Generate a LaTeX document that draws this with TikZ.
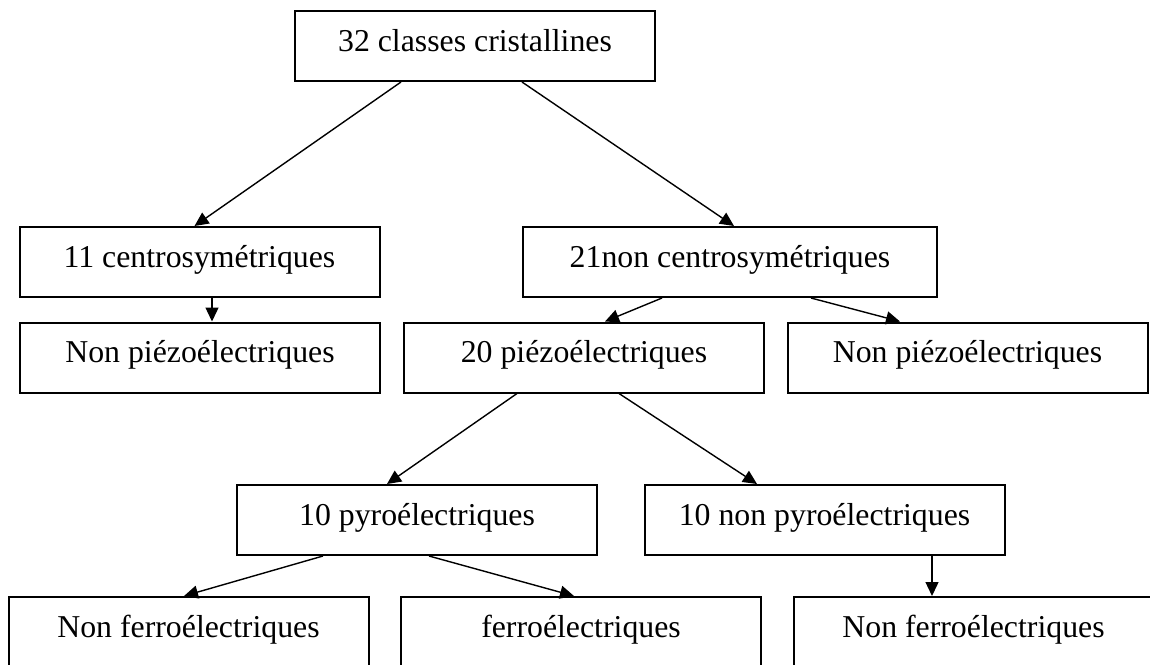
\documentclass[tikz,border=0pt]{standalone}
\usepackage{fontspec}
\setmainfont{Liberation Serif}
\usetikzlibrary{arrows.meta}

\tikzset{
  classe/.style={draw=black, line width=1pt, minimum width=180pt, minimum height=35pt,
    inner sep=0pt, text height=11.1pt, text depth=5.9pt,
    font=\fontsize{15.9}{19}\selectfont},
  fleche/.style={->, line width=0.7pt}
}

\begin{document}
\begin{tikzpicture}[x=0.5pt, y=-0.5pt, >={Triangle[length=7pt,width=6.5pt]}]
\clip (0,0) rectangle (1150,664);

\node[classe] (c32) at (475,46) {32 classes cristallines};

\node[classe] (c11) at (199.5,262) {11 centrosymétriques};
\node[classe, minimum width=207pt, node distance=265.25pt, right of=c11] (c21) {21non centrosymétriques};

\node[classe] (np1) at (200,357.5) {Non piézoélectriques};
\node[classe, node distance=192pt, right of=np1] (p20) {20 piézoélectriques};
\node[classe, node distance=191.75pt, right of=p20] (np2) {Non piézoélectriques};

\node[classe] (pyro) at (417,520) {10 pyroélectriques};
\node[classe, node distance=203.75pt, right of=pyro] (npyro) {10 non pyroélectriques};

\node[classe] (nf1) at (188.5,632) {Non ferroélectriques};
\node[classe, node distance=196.25pt, right of=nf1] (ferro) {ferroélectriques};
\node[classe, node distance=196.25pt, right of=ferro] (nf2) {Non ferroélectriques};

\draw[fleche] ([xshift=-37pt]c32.south) -- ([xshift=-2.5pt]c11.north);
\draw[fleche] ([xshift=23.5pt]c32.south) -- ([xshift=2pt]c21.north);
\draw[fleche] ([xshift=6.25pt]c11.south) -- ([xshift=6pt]np1.north);

\draw[fleche] ([xshift=-34pt]c21.south) -- ([xshift=10.5pt]p20.north);
\draw[fleche] ([xshift=40.5pt]c21.south) -- ([xshift=-33.75pt]np2.north);

\draw[fleche] ([xshift=-33.5pt]p20.south) -- ([xshift=-15pt]pyro.north);
\draw[fleche] ([xshift=17.5pt]p20.south) -- ([xshift=-33.75pt]npyro.north);

\draw[fleche] ([xshift=-47pt]pyro.south) -- ([xshift=-2.25pt]nf1.north);
\draw[fleche] ([xshift=6pt]pyro.south) -- ([xshift=-3.5pt]ferro.north);
\draw[fleche] ([xshift=53.75pt]npyro.south) -- ([xshift=-20.75pt]nf2.north);
\end{tikzpicture}
\end{document}
